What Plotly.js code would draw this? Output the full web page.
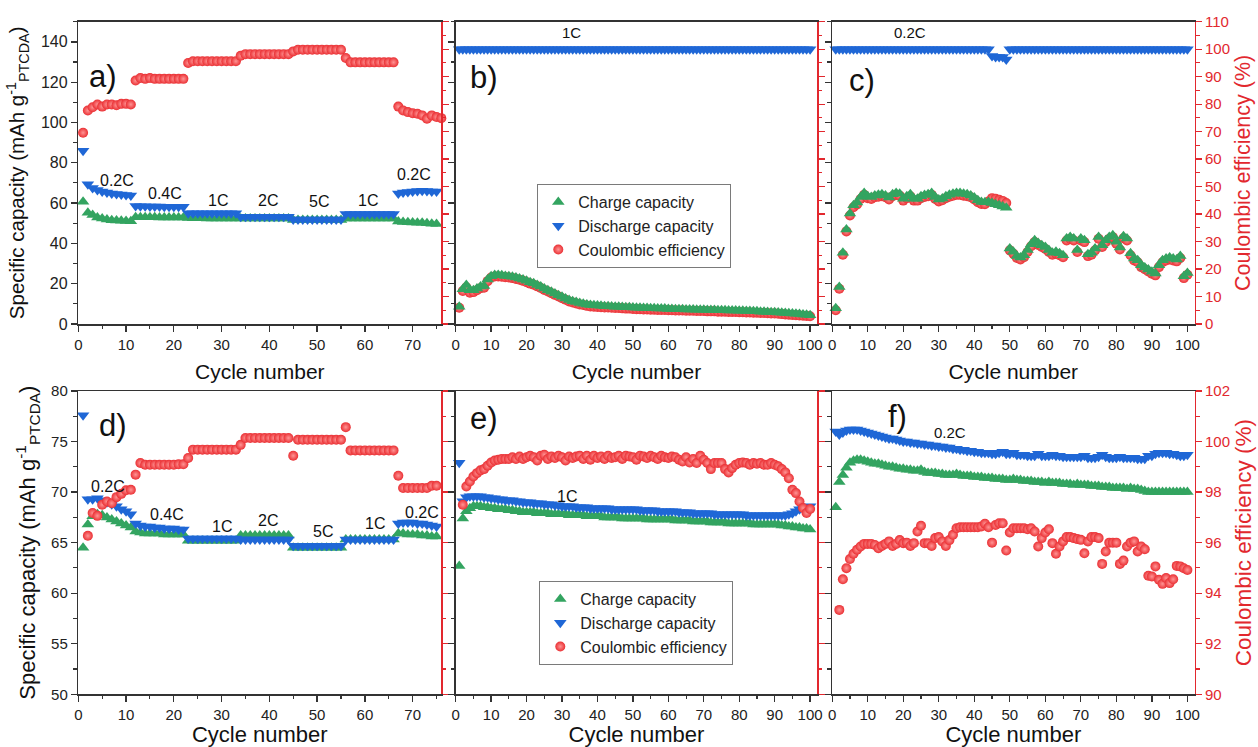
<!DOCTYPE html>
<html><head><meta charset="utf-8">
<script src="https://cdn.plot.ly/plotly-3.0.1.min.js"></script>
<style>html,body{margin:0;padding:0;background:#fff}#chart{width:1258px;height:747px}</style>
</head><body><div id="chart"></div>
<script>
// ---------------- data ----------------
const rateLabelsTop = ["0.2C","0.4C","1C","2C","5C","1C","0.2C"];
const seriesNames = ["Charge capacity","Discharge capacity","Coulombic efficiency"];

// panel a (cycles 1-75, CE 1-76)
const aCharge = [60.7,55.2,54.1,52.9,52.3,51.8,51.5,51.3,51.2,51.1,51.0,
 53.0,53.0,53.0,53.0,53.0,52.9,52.9,52.9,52.9,52.9,52.9,
 52.6,52.5,52.5,52.5,52.4,52.4,52.4,52.4,52.4,52.4,52.4,
 52.3,52.3,52.3,52.3,52.3,52.3,52.3,52.3,52.3,52.3,52.3,
 51.6,51.6,51.6,51.6,51.6,51.6,51.6,51.6,51.6,51.6,51.6,
 52.4,52.4,52.4,52.4,52.4,52.4,52.4,52.4,52.4,52.4,52.4,
 50.8,50.6,50.5,50.4,50.3,50.2,50.0,49.8,49.6];
const aDischarge = [86.0,69.4,67.5,66.5,65.8,65.2,64.8,64.5,64.2,64.0,63.8,
 58.5,58.4,58.4,58.3,58.3,58.3,58.2,58.2,58.2,58.2,58.2,
 54.9,54.9,54.9,54.9,54.9,54.9,54.9,54.9,54.9,54.9,54.9,
 53.2,53.2,53.2,53.2,53.2,53.2,53.2,53.2,53.2,53.2,53.2,
 51.9,51.9,51.9,51.9,51.9,51.9,51.9,51.9,51.9,51.9,51.9,
 54.6,54.6,54.6,54.6,54.6,54.6,54.6,54.6,54.6,54.6,54.6,
 64.8,65.2,65.5,65.8,66.0,66.1,66.0,65.8,65.7];
const aCE = [69.6,77.7,78.9,79.9,79.1,79.9,79.9,79.6,80.1,80.1,79.9,
 88.6,89.5,89.2,89.5,89.2,89.2,89.2,89.2,89.2,89.2,89.2,
 95.0,95.6,95.6,95.6,95.6,95.6,95.6,95.6,95.6,95.6,95.6,
 97.6,98.2,98.2,98.2,98.2,98.2,98.2,98.2,98.2,98.2,98.2,
 99.2,99.8,99.8,99.8,99.8,99.8,99.8,99.8,99.8,99.8,99.8,
 96.8,95.2,95.2,95.2,95.2,95.2,95.2,95.2,95.2,95.2,95.2,
 79.1,77.7,77.1,76.7,76.5,75.9,74.7,75.9,75.3,74.9];

// panel b (cycles 1-100)
const bCharge = [6.3,12.6,14.2,12.3,12.3,12.9,13.6,13.8,16.2,17.4,
 17.8,17.8,17.7,17.5,17.4,17.2,16.9,16.6,16.2,15.7,
 15.2,14.8,14.2,13.6,12.9,12.3,11.7,11.1,10.5,9.9,
 9.3,8.7,8.3,8.0,7.6,7.4,7.1,6.9,6.8,6.7,
 6.6,6.5,6.5,6.4,6.3,6.3,6.2,6.1,6.1,6.0,
 5.9,5.9,5.8,5.8,5.7,5.7,5.6,5.6,5.6,5.5,
 5.5,5.4,5.4,5.4,5.3,5.3,5.3,5.2,5.2,5.2,
 5.1,5.1,5.1,5.0,5.0,5.0,4.9,4.9,4.9,4.8,
 4.8,4.7,4.7,4.6,4.6,4.5,4.5,4.4,4.3,4.3,
 4.2,4.1,4.0,3.9,3.8,3.7,3.6,3.5,3.4,3.2];
const bDischarge = [100,100,100,100,100,100,100,100,100,100,
 100,100,100,100,100,100,100,100,100,100,
 100,100,100,100,100,100,100,100,100,100,
 100,100,100,100,100,100,100,100,100,100,
 100,100,100,100,100,100,100,100,100,100,
 100,100,100,100,100,100,100,100,100,100,
 100,100,100,100,100,100,100,100,100,100,
 100,100,100,100,100,100,100,100,100,100,
 100,100,100,100,100,100,100,100,100,100,
 100,100,100,100,100,100,100,100,100,100];
const bCE = [5.9,12.0,13.4,11.4,11.6,12.3,13.0,13.2,15.6,16.9,
 17.3,17.3,17.2,17.0,16.9,16.7,16.4,16.1,15.7,15.2,
 14.7,14.3,13.7,13.1,12.4,11.8,11.2,10.6,10.0,9.4,
 8.8,8.2,7.8,7.5,7.1,6.9,6.6,6.4,6.3,6.2,
 6.1,6.0,6.0,5.9,5.8,5.8,5.7,5.6,5.6,5.5,
 5.4,5.4,5.3,5.3,5.2,5.2,5.1,5.1,5.1,5.0,
 5.0,4.9,4.9,4.9,4.8,4.8,4.8,4.7,4.7,4.7,
 4.6,4.6,4.6,4.5,4.5,4.5,4.4,4.4,4.4,4.3,
 4.3,4.2,4.2,4.1,4.1,4.0,4.0,3.9,3.8,3.8,
 3.7,3.6,3.5,3.4,3.3,3.2,3.1,3.0,2.9,2.8];

// panel c (cycles 1-100)
const cCharge = [5.7,13.5,25.9,34.4,40.2,43.2,44.2,46.2,47.7,46.5,
 46.2,46.8,47.0,47.2,46.8,46.0,47.2,47.7,47.4,45.6,
 46.5,47.2,45.6,45.6,46.5,46.9,47.2,47.7,46.2,45.3,
 45.7,46.5,47.0,47.4,47.7,47.7,47.4,47.2,46.8,46.0,
 45.0,44.4,44.3,44.4,44.0,43.6,43.2,42.8,42.3,27.5,
 26.3,24.7,24.2,25.0,26.9,29.0,30.5,29.5,28.7,28.0,
 26.9,25.9,26.3,25.7,25.0,31.1,31.7,31.1,26.9,31.1,
 30.5,25.4,25.9,27.5,31.7,28.7,30.5,31.7,32.3,29.9,
 27.8,31.9,31.1,25.7,23.8,23.2,21.4,20.6,19.8,19.0,
 18.4,21.4,23.2,23.8,24.2,23.8,23.5,24.7,17.4,18.6];
const cDischarge = [100,100,100,100,100,100,100,100,100,100,
 100,100,100,100,100,100,100,100,100,100,
 100,100,100,100,100,100,100,100,100,100,
 100,100,100,100,100,100,100,100,100,100,
 100,100,100,100,97.5,97.2,97.2,97.2,96.2,100,
 100,100,100,100,100,100,100,100,100,100,
 100,100,100,100,100,100,100,100,100,100,
 100,100,100,100,100,100,100,100,100,100,
 100,100,100,100,100,100,100,100,100,100,
 100,100,100,100,100,100,100,100,100,100];
const cCE = [5.0,12.8,25.2,33.7,39.5,42.5,43.5,45.5,47.0,45.8,
 45.5,46.1,46.3,46.5,46.1,45.3,46.5,47.0,46.7,44.9,
 45.8,46.5,44.9,44.9,45.8,46.2,46.5,47.0,45.5,44.6,
 45.0,45.8,46.3,46.7,47.0,47.0,46.7,46.5,46.1,45.3,
 44.3,43.7,43.6,44.6,45.8,45.6,45.2,44.8,44.0,26.8,
 25.6,24.0,23.5,24.3,26.2,28.3,29.8,28.8,28.0,27.3,
 26.2,25.2,25.6,25.0,24.3,30.4,31.0,30.4,26.2,30.4,
 29.8,24.7,25.2,26.8,31.0,28.0,29.8,31.0,31.6,29.2,
 27.1,31.2,30.4,25.0,23.1,22.5,20.7,19.9,19.1,18.3,
 17.7,20.7,22.5,23.1,23.5,23.1,22.8,24.0,16.7,17.9];

// panel d (cycles 1-75, CE 2-75)
const dCharge = [64.5,66.8,67.6,67.8,67.7,67.5,67.3,67.1,66.9,66.7,66.5,
 66.1,66.0,65.9,65.9,65.9,65.9,65.8,65.8,65.8,65.8,65.8,
 65.2,65.2,65.2,65.2,65.2,65.2,65.2,65.2,65.2,65.2,65.2,
 65.7,65.7,65.7,65.7,65.7,65.7,65.7,65.7,65.7,65.7,65.7,
 64.5,64.5,64.5,64.5,64.5,64.5,64.5,64.5,64.5,64.5,64.5,
 65.3,65.3,65.3,65.3,65.3,65.3,65.3,65.3,65.3,65.3,65.3,
 65.9,65.9,65.8,65.8,65.8,65.7,65.7,65.6,65.6];
const dDischarge = [77.6,69.3,69.3,69.4,69.2,69.0,68.8,68.6,68.3,68.1,67.8,
 66.9,66.7,66.6,66.6,66.5,66.5,66.4,66.4,66.4,66.3,66.3,
 65.4,65.4,65.4,65.4,65.4,65.4,65.4,65.4,65.4,65.4,65.4,
 65.3,65.3,65.3,65.3,65.3,65.3,65.3,65.3,65.3,65.3,65.3,
 64.7,64.7,64.7,64.7,64.7,64.7,64.7,64.7,64.7,64.7,64.7,
 65.3,65.3,65.3,65.3,65.3,65.3,65.3,65.3,65.3,65.3,65.3,
 66.9,67.0,67.0,67.0,66.9,66.9,66.8,66.7,66.6];
const dCE = [96.27,97.17,97.06,97.5,97.63,97.56,97.8,97.93,98.07,98.09,
 98.69,99.15,99.08,99.08,99.08,99.08,99.08,99.08,99.08,99.1,99.1,
 99.35,99.68,99.68,99.68,99.68,99.68,99.68,99.68,99.68,99.68,99.68,
 99.87,100.14,100.14,100.14,100.14,100.14,100.14,100.14,100.14,100.14,100.14,
 99.44,100.07,100.07,100.07,100.07,100.07,100.07,100.07,100.07,100.07,100.07,
 100.57,99.65,99.65,99.65,99.65,99.65,99.65,99.65,99.65,99.65,99.65,
 98.65,98.16,98.16,98.16,98.16,98.16,98.16,98.25,98.25];

// panel e (cycles 1-100, CE 2-100)
const eCharge = [62.7,67.4,68.1,68.4,68.6,68.6,68.6,68.5,68.5,68.4,
 68.4,68.3,68.3,68.3,68.2,68.2,68.1,68.1,68.0,68.0,
 68.0,68.0,67.9,67.9,67.9,67.9,67.8,67.8,67.8,67.8,
 67.8,67.7,67.7,67.7,67.7,67.7,67.6,67.6,67.6,67.6,
 67.6,67.5,67.5,67.5,67.5,67.5,67.4,67.4,67.4,67.4,
 67.4,67.4,67.4,67.3,67.3,67.3,67.3,67.3,67.3,67.3,
 67.3,67.2,67.2,67.2,67.2,67.2,67.1,67.1,67.1,67.1,
 67.1,67.0,67.0,67.0,67.0,67.0,66.9,66.9,66.9,66.9,
 66.9,66.9,66.9,66.8,66.8,66.8,66.8,66.8,66.8,66.8,
 66.8,66.7,66.7,66.6,66.6,66.5,66.5,66.4,66.4,66.3];
const eDischarge = [72.9,69.1,69.5,69.6,69.6,69.6,69.6,69.5,69.5,69.4,
 69.4,69.3,69.3,69.2,69.2,69.2,69.1,69.1,69.0,69.0,
 69.0,68.9,68.9,68.9,68.8,68.8,68.8,68.7,68.7,68.6,
 68.6,68.6,68.6,68.5,68.5,68.5,68.5,68.4,68.4,68.4,
 68.4,68.4,68.4,68.3,68.3,68.3,68.3,68.3,68.3,68.3,
 68.3,68.2,68.2,68.2,68.2,68.2,68.1,68.1,68.1,68.1,
 68.1,68.1,68.0,68.0,68.0,68.0,67.9,67.9,67.9,67.9,
 67.9,67.9,67.8,67.8,67.8,67.8,67.8,67.8,67.8,67.8,
 67.8,67.7,67.7,67.7,67.7,67.7,67.7,67.7,67.7,67.7,
 67.7,67.7,67.7,67.8,67.9,68.1,68.3,68.4,68.5,68.6];
const eCE = [97.5,98.22,98.42,98.62,98.75,98.86,98.91,99.04,99.17,
 99.25,99.28,99.31,99.31,99.31,99.38,99.31,99.41,99.31,99.38,
 99.44,99.38,99.25,99.44,99.48,99.31,99.41,99.35,99.44,99.38,
 99.25,99.41,99.35,99.41,99.44,99.31,99.44,99.28,99.44,99.35,
 99.41,99.31,99.44,99.35,99.38,99.44,99.31,99.44,99.41,99.38,
 99.28,99.44,99.41,99.35,99.44,99.38,99.31,99.44,99.38,99.35,
 99.41,99.38,99.28,99.21,99.38,99.17,99.31,99.15,99.44,99.28,
 99.15,98.91,99.15,99.15,99.15,98.91,98.78,98.95,99.08,99.15,
 99.17,99.15,99.08,99.15,99.12,99.15,99.08,99.08,99.15,99.08,
 99.02,98.91,98.78,98.55,98.09,97.96,97.63,97.37,97.17,97.33];

// panel f (cycles 1-100, CE 2-100)
const fCharge = [68.5,71.0,71.7,72.4,72.9,73.1,73.2,73.2,73.1,73.0,
 72.9,72.8,72.8,72.7,72.6,72.5,72.5,72.4,72.3,72.3,
 72.2,72.2,72.1,72.1,72.2,72.0,71.9,71.9,71.9,71.8,
 71.8,71.7,71.7,71.7,71.8,71.7,71.6,71.6,71.6,71.5,
 71.5,71.5,71.4,71.4,71.4,71.3,71.3,71.3,71.2,71.2,
 71.3,71.2,71.2,71.1,71.1,71.1,71.0,71.0,71.0,70.9,
 71.0,70.9,70.9,70.9,70.8,70.8,70.8,70.7,70.8,70.7,
 70.7,70.7,70.6,70.6,70.6,70.5,70.5,70.5,70.4,70.4,
 70.4,70.4,70.3,70.4,70.3,70.3,70.2,70.1,70.0,70.0,
 70.0,70.0,70.0,70.0,70.0,70.0,70.0,70.0,70.0,70.0];
const fDischarge = [76.0,75.7,75.9,76.1,76.2,76.2,76.2,76.1,76.0,75.9,
 75.8,75.7,75.6,75.5,75.4,75.3,75.3,75.2,75.1,75.0,
 75.0,74.9,74.9,74.8,74.8,74.7,74.7,74.6,74.6,74.5,
 74.5,74.4,74.4,74.3,74.3,74.2,74.2,74.1,74.1,74.0,
 74.0,73.9,73.9,73.9,73.8,73.8,73.9,74.0,73.8,73.8,
 73.9,73.7,73.7,73.7,73.6,73.6,73.6,73.8,73.6,73.6,
 73.6,73.7,73.6,73.6,73.5,73.5,73.5,73.5,73.5,73.5,
 73.6,73.4,73.4,73.4,73.5,73.7,73.5,73.4,73.4,73.4,
 73.5,73.4,73.4,73.4,73.4,73.3,73.3,73.3,73.6,73.6,
 73.8,73.9,73.9,73.9,73.8,73.8,73.7,73.6,73.6,73.7];
const fCE = [93.34,94.55,94.99,95.35,95.56,95.72,95.85,95.95,95.95,95.95,
 95.91,95.78,95.87,95.95,96.05,95.87,95.95,96.1,95.98,96.0,
 95.87,95.98,96.44,96.67,95.98,95.98,95.87,96.18,96.22,96.05,
 95.87,96.1,96.31,96.57,96.61,96.61,96.61,96.61,96.61,96.61,
 96.64,96.75,96.61,96.0,96.7,96.77,96.77,95.69,96.4,96.57,
 96.57,96.57,96.57,96.53,96.57,96.44,95.85,96.18,96.4,96.53,
 95.98,95.56,95.85,96.05,96.22,96.22,96.18,96.14,96.11,95.58,
 96.05,96.22,96.22,96.18,95.16,95.65,96.0,96.0,96.0,95.16,
 95.29,95.85,96.0,96.05,95.65,95.85,95.74,94.69,94.66,95.06,
 94.53,94.37,94.6,94.4,94.55,95.08,95.06,94.99,94.92];

// ---------------- drawing ----------------
const W = 1258, H = 747;
const F = '"Liberation Sans", Arial, Helvetica, sans-serif';
const RED = '#ea3034', GREEN = '#33a460', BLUE = '#1f67d6', AXRED = '#e2282e', INK = '#222';
const colX = [[78.3, 441.3], [455.7, 817.2], [832.2, 1194.5]];
const rowY = [[21.7, 324], [391, 694.3]];
const cyc = (a, n) => Array.from({length: n}, (_, i) => a + i);   // cycle numbers

const panels = [
  {c: aCharge, d: aDischarge, ce: aCE, ceStart: 1, capRight: false},
  {c: bCharge, d: bDischarge, ce: bCE, ceStart: 1, capRight: true},
  {c: cCharge, d: cDischarge, ce: cCE, ceStart: 1, capRight: true},
  {c: dCharge, d: dDischarge, ce: dCE, ceStart: 2, capRight: false},
  {c: eCharge, d: eDischarge, ce: eCE, ceStart: 2, capRight: false},
  {c: fCharge, d: fDischarge, ce: fCE, ceStart: 2, capRight: false}
];

const legendBase = {xanchor: 'left', yanchor: 'top', bgcolor: '#fff', bordercolor: '#7a7a7a', borderwidth: 1,
  font: {family: F, size: 16, color: '#222'}, traceorder: 'normal', itemsizing: 'trace'};
const layout = {
  width: W, height: H, margin: {l: 0, r: 0, t: 0, b: 0},
  paper_bgcolor: '#fff', plot_bgcolor: 'rgba(0,0,0,0)',
  font: {family: F, color: INK},
  showlegend: true,
  legend: Object.assign({x: 537.3 / W, y: 1 - 184 / H}, legendBase),
  legend2: Object.assign({x: 539.3 / W, y: 1 - 581 / H}, legendBase),
  annotations: []
};
const traces = [];

panels.forEach((p, i) => {
  const row = i < 3 ? 0 : 1, col = i % 3;
  const xn = i === 0 ? '' : String(i + 1);
  const yl = 2 * i + 1, yr = 2 * i + 2;
  const ylName = yl === 1 ? '' : String(yl);
  const top = row === 0;
  const xd = [colX[col][0] / W, colX[col][1] / W];
  const yd = [1 - rowY[row][1] / H, 1 - rowY[row][0] / H];
  const xr = col === 0 ? [0, 76] : [0, 102];

  layout['xaxis' + xn] = {
    domain: xd, anchor: 'y' + ylName, range: xr, dtick: 10, tick0: 0,
    showline: true, linecolor: '#333', linewidth: 1.5, mirror: true,
    ticks: 'outside', ticklen: 6, tickwidth: 1.3, tickcolor: '#333',
    minor: {ticks: 'outside', dtick: 5, tick0: 0, ticklen: 3.5, tickwidth: 1.1, tickcolor: '#333', showgrid: false},
    showgrid: false, zeroline: false, tickfont: {family: F, size: 15, color: INK},
    title: {text: 'Cycle number', font: {family: F, size: top ? 21 : 22, color: '#111'}, standoff: top ? 13 : 9},
    automargin: false
  };
  const left = {
    domain: yd, anchor: 'x' + xn, range: top ? [0, 150] : [50, 80], dtick: top ? 20 : 5, tick0: 0,
    showline: true, linecolor: '#333', linewidth: 1.5, mirror: false,
    ticks: 'outside', ticklen: 6, tickwidth: 1.3, tickcolor: '#333',
    minor: {ticks: 'outside', dtick: top ? 10 : 2.5, tick0: 0, ticklen: 3.5, tickwidth: 1.1, tickcolor: '#333', showgrid: false},
    showgrid: false, zeroline: false, showticklabels: col === 0, tickfont: {family: F, size: top ? 16 : 15, color: INK},
    automargin: false
  };
  if (col === 0) left.title = {text: 'Specific capacity (mAh g<sup>-1</sup><sub>PTCDA</sub>)',
      font: {family: F, size: top ? 20.5 : 22, color: '#111'}, standoff: top ? 10 : 9};
  layout['yaxis' + ylName] = left;
  const right = {
    overlaying: 'y' + ylName, side: 'right', anchor: 'x' + xn, domain: yd,
    range: top ? [0, 110] : [90, 102], dtick: top ? 10 : 2, tick0: 0,
    showline: true, linecolor: AXRED, linewidth: 1.5,
    ticks: 'outside', ticklen: 6, tickwidth: 1.3, tickcolor: AXRED,
    minor: {ticks: 'outside', dtick: top ? 5 : 1, tick0: 0, ticklen: 3.5, tickwidth: 1.1, tickcolor: AXRED, showgrid: false},
    showgrid: false, zeroline: false, showticklabels: col === 2,
    tickfont: {family: F, size: 15, color: AXRED},
    automargin: false
  };
  if (col === 2) right.title = {text: 'Coulombic efficiency (%)', font: {family: F, size: top ? 21.5 : 22.5, color: AXRED}, standoff: 6};
  layout['yaxis' + yr] = right;

  const xa = 'x' + xn;
  const capY = p.capRight ? 'y' + yr : 'y' + ylName;
  const legendId = i === 1 ? 'legend' : (i === 4 ? 'legend2' : undefined);
  const showL = legendId !== undefined;
  const common = {type: 'scatter', mode: 'markers', xaxis: xa, cliponaxis: false, hoverinfo: 'skip'};

  // keeps the left-axis subplot alive where all marks sit on the right axis
  traces.push(Object.assign({}, common, {x: [], y: [], yaxis: 'y' + ylName, showlegend: false}));
  traces.push(Object.assign({}, common, {
    name: seriesNames[2], x: cyc(p.ceStart, p.ce.length), y: p.ce, yaxis: 'y' + yr,
    marker: {symbol: 'circle', size: 10, color: RED, line: {width: 0}, gradient: {type: 'radial', color: '#ff9494'}},
    showlegend: showL, legend: legendId, legendrank: 3
  }));
  traces.push(Object.assign({}, common, {
    name: seriesNames[0], x: cyc(1, p.c.length), y: p.c, yaxis: capY,
    marker: {symbol: 'triangle-up', size: 11, color: GREEN, line: {width: 0}},
    showlegend: showL, legend: legendId, legendrank: 1
  }));
  traces.push(Object.assign({}, common, {
    name: seriesNames[1], x: cyc(1, p.d.length), y: p.d, yaxis: capY,
    marker: {symbol: 'triangle-down', size: 11, color: BLUE, line: {width: 0}},
    showlegend: showL, legend: legendId, legendrank: 2
  }));
});

function ann(text, x, y, size) {
  return {text: text, x: x / W, y: 1 - y / H, xref: 'paper', yref: 'paper', showarrow: false,
    xanchor: 'center', yanchor: 'middle', font: {family: F, size: size, color: '#111'}};
}
// panel letters
[['a)', 103, 77], ['b)', 484, 78], ['c)', 862, 80], ['d)', 113, 425], ['e)', 484, 418], ['f)', 897, 417]]
  .forEach(t => layout.annotations.push(ann(t[0], t[1], t[2], 31)));
// rate labels, panel a
const aRatePos = [[117, 180], [165, 193], [218, 200], [268, 200], [319, 201], [368, 200], [414, 174]];
rateLabelsTop.forEach((t, k) => layout.annotations.push(ann(t, aRatePos[k][0], aRatePos[k][1], 16)));
// rate labels, panel d
const dRatePos = [[108, 486], [167, 514], [222, 526], [268, 520], [323, 531], [375, 523], [422, 512]];
rateLabelsTop.forEach((t, k) => layout.annotations.push(ann(t, dRatePos[k][0], dRatePos[k][1], 16)));
layout.annotations.push(ann('1C', 571, 33, 15));
layout.annotations.push(ann('0.2C', 910, 33, 15));
layout.annotations.push(ann('1C', 567, 497, 16));
layout.annotations.push(ann('0.2C', 950, 432, 15));

Plotly.newPlot('chart', traces, layout, {displayModeBar: false, staticPlot: true}).then(gd => {
  // drop the empty placeholder title nodes Plotly leaves on untitled axes
  gd.querySelectorAll('text.xtitle, text.ytitle, text[class^="y"][class$="title"], text[class^="x"][class$="title"]')
    .forEach(t => { if (!t.textContent.trim()) t.remove(); });
});
</script></body></html>
